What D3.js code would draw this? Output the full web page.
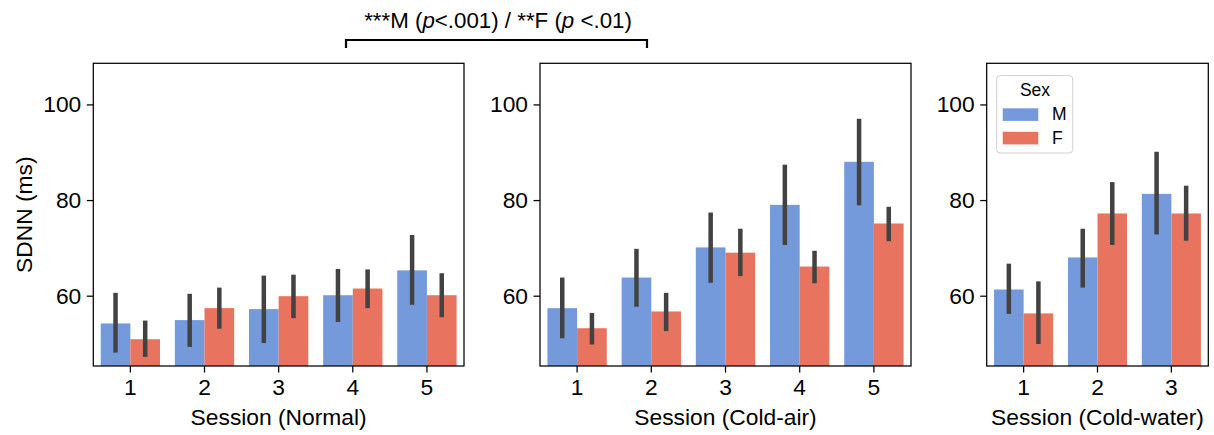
<!DOCTYPE html>
<html>
<head>
<meta charset="utf-8">
<script src="https://cdn.jsdelivr.net/npm/d3@7"></script>
<style>
  body { margin: 0; background: #fff; }
  svg { display: block; font-family: "Liberation Sans", Arial, sans-serif; }
</style>
</head>
<body>
<div id="chart"></div>
<script>
// == data ==
var sexes = ["M", "F"];
var yTicks = [60, 80, 100];

var normalSessions = ["1", "2", "3", "4", "5"];
var normalM   = [54.2, 54.9, 57.2, 60.1, 65.3];
var normalMLo = [48.1, 49.3, 50.1, 54.5, 58.1];
var normalMHi = [60.6, 60.4, 64.2, 65.6, 72.7];
var normalF   = [50.9, 57.4, 59.9, 61.5, 60.1];
var normalFLo = [47.2, 53.1, 55.3, 57.4, 55.5];
var normalFHi = [54.8, 61.7, 64.4, 65.5, 64.7];

var airSessions = ["1", "2", "3", "4", "5"];
var airM   = [57.4, 63.8, 70.1, 79.0, 88.0];
var airMLo = [51.1, 57.7, 62.7, 70.6, 78.9];
var airMHi = [63.8, 69.8, 77.4, 87.4, 97.0];
var airF   = [53.2, 56.7, 69.0, 66.1, 75.1];
var airFLo = [49.8, 52.6, 64.1, 62.6, 71.4];
var airFHi = [56.4, 60.6, 74.0, 69.4, 78.6];

var waterSessions = ["1", "2", "3"];
var waterM   = [61.3, 68.0, 81.3];
var waterMLo = [56.2, 61.7, 72.8];
var waterMHi = [66.7, 74.0, 90.1];
var waterF   = [56.3, 77.2, 77.2];
var waterFLo = [49.9, 70.6, 71.5];
var waterFHi = [63.0, 83.75, 83.0];

var colors = { M: "#759adc", F: "#e8735e" };
var errColor = "#424242";

var W = 1214, H = 435;
var plotTop = 63.3, plotBottom = 366;
var fontSize = 22.8;

var svg = d3.select("#chart").append("svg")
    .attr("width", W).attr("height", H);

// y scale shared by all panels
var y = d3.scaleLinear().domain([45.3, 108.6]).range([plotBottom, plotTop]);

var panels = [
  { left: 93.3, right: 464, label: "Session (Normal)", cats: normalSessions, yLabel: true,
    M: normalM, MLo: normalMLo, MHi: normalMHi, F: normalF, FLo: normalFLo, FHi: normalFHi },
  { left: 540, right: 911, label: "Session (Cold-air)", cats: airSessions,
    M: airM, MLo: airMLo, MHi: airMHi, F: airF, FLo: airFLo, FHi: airFHi },
  { left: 986.7, right: 1208.3, label: "Session (Cold-water)", cats: waterSessions, legend: true,
    M: waterM, MLo: waterMLo, MHi: waterMHi, F: waterF, FLo: waterFLo, FHi: waterFHi }
];

panels.forEach(function (p) {
  var g = svg.append("g");
  var x = d3.scaleBand().domain(p.cats).range([p.left, p.right]).padding(0);
  var xs = d3.scaleBand().domain(sexes).range([0.1 * x.bandwidth(), 0.9 * x.bandwidth()]).padding(0);

  // rows: one per bar
  var rows = [];
  p.cats.forEach(function (c, i) {
    sexes.forEach(function (s) {
      rows.push({ cat: c, sex: s, v: p[s][i], lo: p[s + "Lo"][i], hi: p[s + "Hi"][i] });
    });
  });

  g.selectAll("rect.bar").data(rows).enter().append("rect")
    .attr("class", "bar")
    .attr("x", function (d) { return x(d.cat) + xs(d.sex); })
    .attr("width", xs.bandwidth())
    .attr("y", function (d) { return y(d.v); })
    .attr("height", function (d) { return plotBottom - y(d.v); })
    .attr("fill", function (d) { return colors[d.sex]; });

  g.selectAll("line.err").data(rows).enter().append("line")
    .attr("class", "err")
    .attr("x1", function (d) { return x(d.cat) + xs(d.sex) + xs.bandwidth() / 2; })
    .attr("x2", function (d) { return x(d.cat) + xs(d.sex) + xs.bandwidth() / 2; })
    .attr("y1", function (d) { return y(d.lo); })
    .attr("y2", function (d) { return y(d.hi); })
    .attr("stroke", errColor).attr("stroke-width", 4.5);

  // axes
  var xAxis = g.append("g").attr("transform", "translate(0," + plotBottom + ")")
    .call(d3.axisBottom(x).tickSize(6.5).tickPadding(6).tickSizeOuter(0));
  var yAxis = g.append("g").attr("transform", "translate(" + p.left + ",0)")
    .call(d3.axisLeft(y).tickValues(yTicks).tickSize(6.5).tickPadding(5.5).tickSizeOuter(0));
  [xAxis, yAxis].forEach(function (a) {
    a.select(".domain").remove();
    a.selectAll("line").attr("stroke", "#000").attr("stroke-width", 1.25);
    a.selectAll("text").attr("font-size", fontSize).attr("fill", "#000")
      .attr("font-family", "'Liberation Sans', Arial, sans-serif");
  });

  // frame
  g.append("rect")
    .attr("x", p.left).attr("y", plotTop)
    .attr("width", p.right - p.left).attr("height", plotBottom - plotTop)
    .attr("fill", "none").attr("stroke", "#000").attr("stroke-width", 1.25);

  g.append("text")
    .attr("x", (p.left + p.right) / 2).attr("y", 425)
    .attr("text-anchor", "middle").attr("font-size", fontSize)
    .text(p.label);

  if (p.yLabel) {
    g.append("text")
      .attr("transform", "translate(32," + ((plotTop + plotBottom) / 2) + ") rotate(-90)")
      .attr("text-anchor", "middle").attr("font-size", fontSize)
      .text("SDNN (ms)");
  }

  if (p.legend) {
    var lg = g.append("g");
    lg.append("rect")
      .attr("x", 996.7).attr("y", 75.5).attr("width", 76).attr("height", 77.5)
      .attr("rx", 3.5).attr("fill", "#fff").attr("fill-opacity", 0.8)
      .attr("stroke", "#d0d0d0").attr("stroke-width", 1);
    lg.append("text").attr("x", 1035).attr("y", 96)
      .attr("text-anchor", "middle").attr("font-size", 17.5).text("Sex");
    sexes.forEach(function (s, i) {
      lg.append("rect")
        .attr("x", 1002.7).attr("y", 108.3 + i * 23.5)
        .attr("width", 35.6).attr("height", 12.6)
        .attr("fill", colors[s]);
      lg.append("text")
        .attr("x", 1052).attr("y", 119.5 + i * 24.5)
        .attr("font-size", 17.5).text(s);
    });
  }
});

// significance bracket between Normal and Cold-air panels
svg.append("path")
  .attr("d", "M346,48V40H647V48")
  .attr("fill", "none").attr("stroke", "#000").attr("stroke-width", 2.2);

var t = svg.append("text")
  .attr("x", 498).attr("y", 28)
  .attr("text-anchor", "middle").attr("font-size", 22.3);
t.append("tspan").text("***M (");
t.append("tspan").attr("font-style", "italic").text("p");
t.append("tspan").text("<.001) / **F (");
t.append("tspan").attr("font-style", "italic").text("p");
t.append("tspan").text(" <.01)");
</script>
</body>
</html>
